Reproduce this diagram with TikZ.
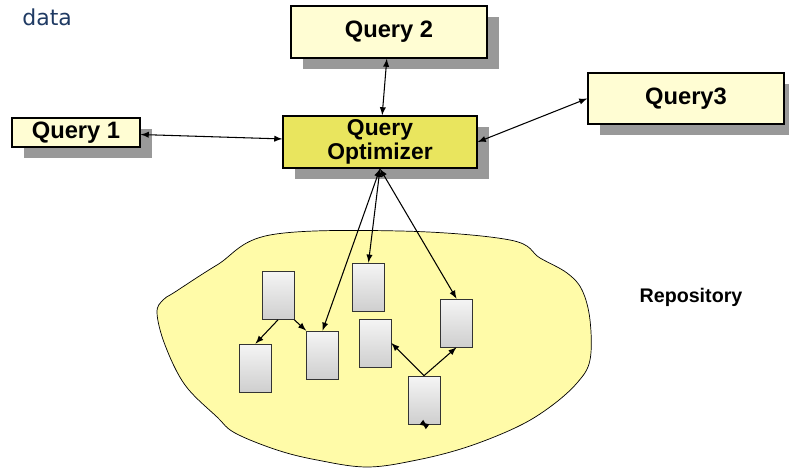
\documentclass[tikz,border=0pt]{standalone}
\usepackage{fontspec}
\setmainfont{Liberation Sans}
\newfontfamily\datafont{DejaVu Sans}
\usepackage{tikz}
\usetikzlibrary{shadows}
\pgfdeclarelayer{bg}
\pgfsetlayers{bg,main}
\definecolor{qyellow}{HTML}{FFFDD3}
\definecolor{optyellow}{HTML}{E9E55E}
\definecolor{blobyellow}{HTML}{FFFBA8}
\definecolor{shadegray}{HTML}{999999}
\definecolor{textblue}{HTML}{1F3A63}
\tikzset{
    >=latex,
    query/.style={rectangle, draw, thick, fill=qyellow, inner sep=0mm,
        font=\fontsize{13.5}{15}\selectfont\bfseries,
        drop shadow={fill=shadegray, opacity=1, shadow xshift=0.24cm, shadow yshift=-0.23cm}},
    optim/.style={query, fill=optyellow, align=center,
        font=\fontsize{13}{13.6}\selectfont\bfseries},
    doc/.style={rectangle, draw=gray!40!black, inner sep=0mm,
        minimum width=0.64cm, minimum height=0.96cm,
        top color=gray!8, bottom color=gray!38},
    link/.style={semithick}
}

\begin{document}
\begin{tikzpicture}[x=0.02cm, y=-0.02cm]
    \useasboundingbox (0,0) rectangle (789,469);

    \node (data) [anchor=base west, inner sep=0mm, text=textblue,
        font=\datafont\fontsize{12.5}{14}\selectfont] at (22,26) {data};

    \node (q2) [query, minimum width=3.92cm, minimum height=1.04cm] at (389,32) {Query 2};
    \node (q1) [query, minimum width=2.56cm, minimum height=0.58cm] at (76,132.5) {Query 1};
    \node (q3) [query, minimum width=3.92cm, minimum height=1.02cm] at (686,98.5) {Query3};
    \node (opt) [optim, minimum width=3.88cm, minimum height=1.04cm] at (380,142) {Query\\Optimizer};

    \node (repo) [inner sep=0mm, font=\fontsize{11.2}{12}\selectfont\bfseries] at (691,297) {Repository};

    \node (d1) [doc] at (278,295.5) {};
    \node (d2) [doc] at (255.5,368) {};
    \node (d3) [doc] at (322.5,355) {};
    \node (d4) [doc] at (368.5,287) {};
    \node (d5) [doc] at (375,343) {};
    \node (d6) [doc] at (456.5,323) {};
    \node (d7) [doc] at (424,400) {};
    \coordinate (d7a) at (421,422);
    \coordinate (d7b) at (428,427);

    \begin{pgfonlayer}{bg}
        \draw [fill=blobyellow] plot [smooth cycle, tension=0.6] coordinates {
            (270,235) (400,231) (510,240) (540,258) (567,273) (582,290)
            (590,320) (590,360) (577,383) (550,407) (517,427) (467,447)
            (417,460) (367,467) (317,460) (277,450) (235,433) (217,417)
            (185,385) (165,345) (157,313) (163,300) (175,292) (217,265)};
    \end{pgfonlayer}

    \draw [link] (q1) edge [<->] (opt);
    \draw [link] (q2) edge [<->] (opt);
    \draw [link] (opt.east) edge [<->] (q3.west);

    \draw [link] (opt.south) edge [<->] (d3.north);
    \draw [link] (opt.south) edge [<->] (d4.north);
    \draw [link] (opt.south) edge [<->] (d6.north);

    \draw [link] (d1.south) edge [->] (d2.north);
    \draw [link] (d1.south east) edge [->] (d3.north west);
    \draw [link] (d7.north) edge [->] (d5.east);
    \draw [link] (d7.north) edge [->] (d6.south);
    \draw [link] (d7a) edge [<->] (d7b);
\end{tikzpicture}
\end{document}
